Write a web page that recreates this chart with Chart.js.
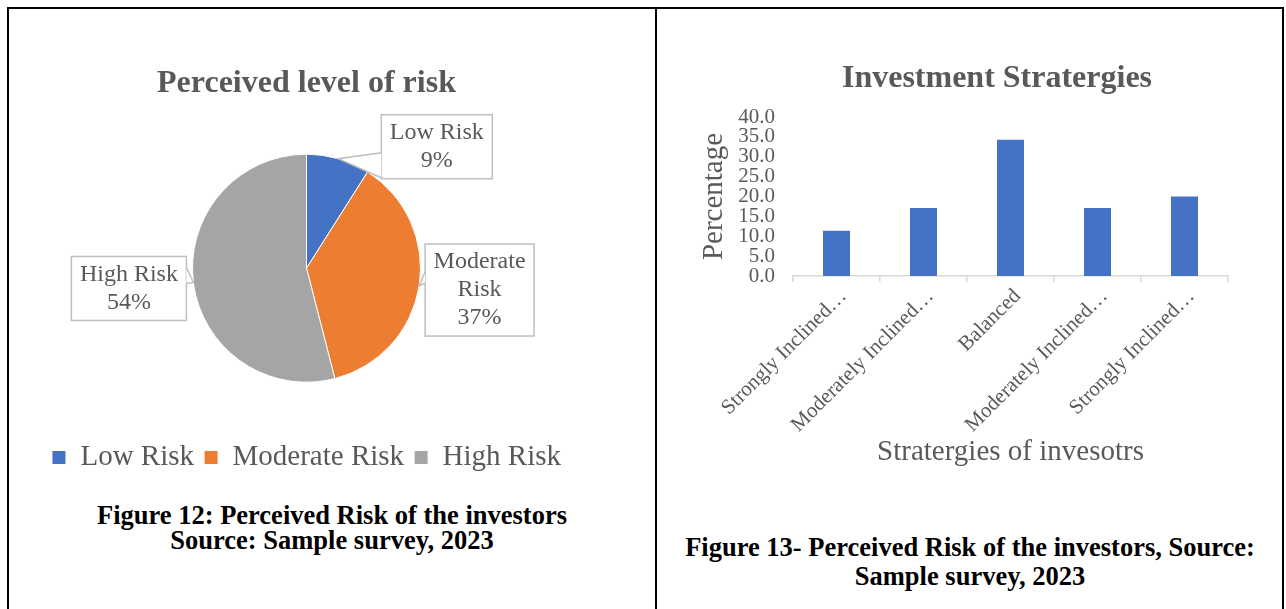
<!DOCTYPE html>
<html>
<head>
<meta charset="utf-8">
<title>Perceived Risk of the investors</title>
<script src="https://cdn.jsdelivr.net/npm/chart.js@4.4.1/dist/chart.umd.min.js"></script>
<style>
  html, body { margin: 0; padding: 0; background: #fff; width: 1286px; height: 609px; overflow: hidden; }
  .frame { position: absolute; left: 7px; top: 7px; width: 1273px; height: 640px; border: 2px solid #000; }
  .divider { position: absolute; left: 655px; top: 7px; width: 2px; height: 650px; background: #000; }
  .cell { position: absolute; overflow: hidden; }
  .caption {
    position: absolute; text-align: center; white-space: nowrap;
    font-family: "Liberation Serif", "Times New Roman", serif; font-weight: bold; color: #000;
    font-size: 26.5px;
  }
</style>
</head>
<body>
<div class="frame"></div>
<div class="divider"></div>

<div class="cell" style="left:8px; top:8px; width:646px; height:474px;">
  <canvas id="riskPie" width="646" height="474"></canvas>
</div>
<div class="caption" style="left:9px; width:646px; top:503px; line-height:25px;">
  Figure 12: Perceived Risk of the investors<br>Source: Sample survey, 2023
</div>

<div class="cell" style="left:657px; top:8px; width:626px; height:474px;">
  <canvas id="strategyBar" width="600" height="474" style="position:absolute; left:40px; top:0;"></canvas>
</div>
<div class="caption" style="left:657px; width:626px; top:533px; line-height:29px;">
  Figure 13- Perceived Risk of the investors, Source:<br>Sample survey, 2023
</div>

<script>
// ---- data ----
const riskLabels = ['Low Risk', 'Moderate Risk', 'High Risk'];
const riskShares = [9, 37, 54];
const riskColors = ['#4472C4', '#ED7D31', '#A5A5A5'];

const strategyLabels = ['Strongly Inclined…', 'Moderately Inclined…', 'Balanced', 'Moderately Inclined…', 'Strongly Inclined…'];
const strategyPercent = [11.4, 17.1, 34.3, 17.1, 20.0];
const percentMin = 0;
const percentMax = 40;
const percentStep = 5;

// ---- shared style ----
const SERIF = '"Liberation Serif", "Times New Roman", serif';
const GREY_TEXT = '#595959';
Chart.defaults.font.family = SERIF;
Chart.defaults.color = GREY_TEXT;

// Word-wraps a label so that each line fits within maxWidth.
function wrapText(ctx, text, maxWidth) {
  const words = text.split(' ');
  const lines = [];
  let line = '';
  words.forEach(w => {
    const test = line ? line + ' ' + w : w;
    if (line && ctx.measureText(test).width > maxWidth) { lines.push(line); line = w; }
    else line = test;
  });
  if (line) lines.push(line);
  return lines;
}

// Boxed data callouts ("Label / NN%") with a pointer to the middle of each slice edge.
const calloutPlugin = {
  id: 'callouts',
  afterDatasetsDraw(chart, args, opts) {
    const ctx = chart.ctx;
    const meta = chart.getDatasetMeta(0);
    const values = chart.data.datasets[0].data;
    const total = values.reduce((a, b) => a + b, 0);
    ctx.save();
    ctx.font = `${opts.fontSize}px ${SERIF}`;
    meta.data.forEach((arc, i) => {
      const p = arc.getProps(['x', 'y', 'startAngle', 'endAngle', 'outerRadius'], true);
      const mid = (p.startAngle + p.endAngle) / 2;
      const tipX = p.x + Math.cos(mid) * p.outerRadius;
      const tipY = p.y + Math.sin(mid) * p.outerRadius;
      const pct = Math.round(values[i] / total * 100) + '%';
      const lines = wrapText(ctx, chart.data.labels[i], opts.wrapWidth).concat([pct]);
      const place = opts.placement[i];
      const w = Math.max(...lines.map(l => ctx.measureText(l).width)) + opts.padX * 2;
      const h = lines.length * opts.lineHeight + opts.padY * 2;
      const left = place.side === 'right' ? tipX + place.gap : tipX - place.gap - w;
      const top = tipY + place.dyTop;
      const edgeX = place.side === 'right' ? left : left + w;

      // box
      ctx.fillStyle = '#fff';
      ctx.strokeStyle = opts.borderColor;
      ctx.lineWidth = 1.5;
      ctx.fillRect(left, top, w, h);
      ctx.strokeRect(left, top, w, h);

      // pointer
      const b1 = top + place.base[0], b2 = top + place.base[1];
      ctx.beginPath();
      ctx.moveTo(edgeX, b1); ctx.lineTo(tipX, tipY); ctx.lineTo(edgeX, b2); ctx.closePath();
      ctx.fill();
      ctx.beginPath();
      ctx.moveTo(edgeX, b1); ctx.lineTo(tipX, tipY); ctx.lineTo(edgeX, b2);
      ctx.stroke();

      // text
      ctx.fillStyle = GREY_TEXT;
      ctx.textAlign = 'center';
      ctx.textBaseline = 'middle';
      lines.forEach((l, k) => {
        ctx.fillText(l, left + w / 2, top + opts.padY + opts.lineHeight * (k + 0.5));
      });
    });
    ctx.restore();
  }
};

// ---- pie: perceived level of risk ----
new Chart(document.getElementById('riskPie'), {
  type: 'pie',
  data: {
    labels: riskLabels,
    datasets: [{
      data: riskShares,
      backgroundColor: riskColors,
      borderColor: '#ffffff',
      borderWidth: 1,
      radius: 114
    }]
  },
  options: {
    responsive: false,
    animation: false,
    layout: { padding: { left: 0, right: 49, top: 0, bottom: 0 } },
    plugins: {
      title: {
        display: true,
        text: 'Perceived level of risk',
        color: GREY_TEXT,
        font: { family: SERIF, size: 32, weight: 'bold' },
        padding: { top: 57, bottom: 0 }
      },
      legend: {
        position: 'bottom',
        labels: {
          color: GREY_TEXT,
          font: { family: SERIF, size: 29 },
          boxWidth: 14,
          boxHeight: 14,
          padding: 10
        }
      },
      tooltip: { enabled: false },
      callouts: {
        fontSize: 24,
        lineHeight: 28,
        padX: 8.5,
        padY: 4,
        wrapWidth: 100,
        borderColor: '#BFBFBF',
        placement: [
          { side: 'right', gap: 43, dyTop: -44, base: [38, 63] },
          { side: 'right', gap: 6, dyTop: -42, base: [28, 39] },
          { side: 'left', gap: 7, dyTop: -26, base: [11, 27] }
        ]
      }
    }
  },
  plugins: [calloutPlugin]
});

// ---- bar: investment strategies ----
new Chart(document.getElementById('strategyBar'), {
  type: 'bar',
  data: {
    labels: strategyLabels,
    datasets: [{
      data: strategyPercent,
      backgroundColor: '#4472C4',
      categoryPercentage: 1,
      barPercentage: 0.31
    }]
  },
  options: {
    responsive: false,
    animation: false,
    layout: { padding: { left: 0, right: 0, top: 0, bottom: 9 } },
    plugins: {
      legend: { display: false },
      tooltip: { enabled: false },
      title: {
        display: true,
        text: 'Investment Stratergies',
        color: GREY_TEXT,
        font: { family: SERIF, size: 32, weight: 'bold' },
        padding: { top: 52, bottom: 18.6 }
      }
    },
    scales: {
      x: {
        grid: { offset: true, drawOnChartArea: false, drawTicks: true, tickLength: 6, color: '#D9D9D9', lineWidth: 1.5 },
        border: { color: '#D9D9D9', width: 1.5 },
        ticks: {
          color: GREY_TEXT,
          font: { family: SERIF, size: 21 },
          minRotation: 45,
          maxRotation: 45,
          autoSkip: false,
          padding: 2,
          labelOffset: 7
        },
        title: {
          display: true,
          text: 'Stratergies of invesotrs',
          color: GREY_TEXT,
          font: { family: SERIF, size: 29 },
          padding: { top: 4, bottom: 3 }
        },
        afterFit(scale) { scale.height = 197; }
      },
      y: {
        min: percentMin,
        max: percentMax,
        ticks: {
          stepSize: percentStep,
          autoSkip: false,
          color: GREY_TEXT,
          font: { family: SERIF, size: 21 },
          padding: 18,
          callback: v => Number(v).toFixed(1)
        },
        grid: { display: false, drawTicks: false },
        border: { display: false },
        title: {
          display: true,
          text: 'Percentage',
          color: GREY_TEXT,
          font: { family: SERIF, size: 29 },
          padding: { top: 0, bottom: 0 }
        },
        afterFit(scale) { scale.width = 96; }
      },
      gutter: {
        type: 'linear',
        axis: 'y',
        position: 'right',
        display: true,
        grid: { display: false, drawTicks: false },
        border: { display: false },
        ticks: { display: false },
        afterFit(scale) { scale.width = 69; }
      }
    }
  }
});
</script>
</body>
</html>
